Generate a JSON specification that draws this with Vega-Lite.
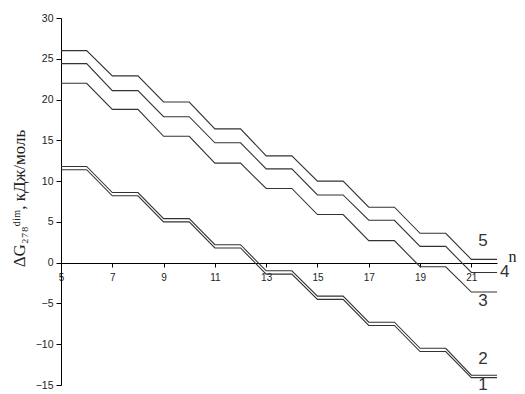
{
  "$schema": "https://vega.github.io/schema/vega-lite/v6.json",
  "autosize": "none",
  "width": 436,
  "height": 367,
  "padding": {"left": 61, "top": 18, "right": 28, "bottom": 9},
  "background": "white",
  "config": {"view": {"stroke": null}, "axis": {"grid": false}},
  "datasets": {
    "lines": [
      {"s": "5", "n": 5, "v": 26.0}, {"s": "5", "n": 6, "v": 26.0}, {"s": "5", "n": 7, "v": 22.9}, {"s": "5", "n": 8, "v": 22.9}, {"s": "5", "n": 9, "v": 19.7}, {"s": "5", "n": 10, "v": 19.7}, {"s": "5", "n": 11, "v": 16.4}, {"s": "5", "n": 12, "v": 16.4}, {"s": "5", "n": 13, "v": 13.1}, {"s": "5", "n": 14, "v": 13.1}, {"s": "5", "n": 15, "v": 10.0}, {"s": "5", "n": 16, "v": 10.0}, {"s": "5", "n": 17, "v": 6.8}, {"s": "5", "n": 18, "v": 6.8}, {"s": "5", "n": 19, "v": 3.6}, {"s": "5", "n": 20, "v": 3.6}, {"s": "5", "n": 21, "v": 0.4}, {"s": "5", "n": 22, "v": 0.4},
      {"s": "4", "n": 5, "v": 24.4}, {"s": "4", "n": 6, "v": 24.4}, {"s": "4", "n": 7, "v": 21.1}, {"s": "4", "n": 8, "v": 21.1}, {"s": "4", "n": 9, "v": 17.9}, {"s": "4", "n": 10, "v": 17.9}, {"s": "4", "n": 11, "v": 14.7}, {"s": "4", "n": 12, "v": 14.7}, {"s": "4", "n": 13, "v": 11.5}, {"s": "4", "n": 14, "v": 11.5}, {"s": "4", "n": 15, "v": 8.3}, {"s": "4", "n": 16, "v": 8.3}, {"s": "4", "n": 17, "v": 5.2}, {"s": "4", "n": 18, "v": 5.2}, {"s": "4", "n": 19, "v": 2.0}, {"s": "4", "n": 20, "v": 2.0}, {"s": "4", "n": 21, "v": -1.2}, {"s": "4", "n": 22, "v": -1.2},
      {"s": "3", "n": 5, "v": 22.0}, {"s": "3", "n": 6, "v": 22.0}, {"s": "3", "n": 7, "v": 18.8}, {"s": "3", "n": 8, "v": 18.8}, {"s": "3", "n": 9, "v": 15.5}, {"s": "3", "n": 10, "v": 15.5}, {"s": "3", "n": 11, "v": 12.2}, {"s": "3", "n": 12, "v": 12.2}, {"s": "3", "n": 13, "v": 9.1}, {"s": "3", "n": 14, "v": 9.1}, {"s": "3", "n": 15, "v": 5.9}, {"s": "3", "n": 16, "v": 5.9}, {"s": "3", "n": 17, "v": 2.7}, {"s": "3", "n": 18, "v": 2.7}, {"s": "3", "n": 19, "v": -0.5}, {"s": "3", "n": 20, "v": -0.5}, {"s": "3", "n": 21, "v": -3.6}, {"s": "3", "n": 22, "v": -3.6},
      {"s": "2", "n": 5, "v": 11.8}, {"s": "2", "n": 6, "v": 11.8}, {"s": "2", "n": 7, "v": 8.6}, {"s": "2", "n": 8, "v": 8.6}, {"s": "2", "n": 9, "v": 5.4}, {"s": "2", "n": 10, "v": 5.4}, {"s": "2", "n": 11, "v": 2.2}, {"s": "2", "n": 12, "v": 2.2}, {"s": "2", "n": 13, "v": -1.0}, {"s": "2", "n": 14, "v": -1.0}, {"s": "2", "n": 15, "v": -4.1}, {"s": "2", "n": 16, "v": -4.1}, {"s": "2", "n": 17, "v": -7.3}, {"s": "2", "n": 18, "v": -7.3}, {"s": "2", "n": 19, "v": -10.5}, {"s": "2", "n": 20, "v": -10.5}, {"s": "2", "n": 21, "v": -13.8}, {"s": "2", "n": 22, "v": -13.8},
      {"s": "1", "n": 5, "v": 11.4}, {"s": "1", "n": 6, "v": 11.4}, {"s": "1", "n": 7, "v": 8.2}, {"s": "1", "n": 8, "v": 8.2}, {"s": "1", "n": 9, "v": 5.0}, {"s": "1", "n": 10, "v": 5.0}, {"s": "1", "n": 11, "v": 1.8}, {"s": "1", "n": 12, "v": 1.8}, {"s": "1", "n": 13, "v": -1.4}, {"s": "1", "n": 14, "v": -1.4}, {"s": "1", "n": 15, "v": -4.5}, {"s": "1", "n": 16, "v": -4.5}, {"s": "1", "n": 17, "v": -7.7}, {"s": "1", "n": 18, "v": -7.7}, {"s": "1", "n": 19, "v": -10.9}, {"s": "1", "n": 20, "v": -10.9}, {"s": "1", "n": 21, "v": -14.1}, {"s": "1", "n": 22, "v": -14.1}
    ],
    "labels": [
      {"lab": "5", "n": 21.45, "v": 2.6},
      {"lab": "4", "n": 22.3, "v": -1.2},
      {"lab": "3", "n": 21.45, "v": -4.7},
      {"lab": "2", "n": 21.45, "v": -11.8},
      {"lab": "1", "n": 21.45, "v": -14.95}
    ]
  },
  "layer": [
    {
      "data": {"name": "lines"},
      "mark": {"type": "line", "stroke": "#333333", "strokeWidth": 1.1, "clip": false},
      "encoding": {
        "x": {
          "field": "n", "type": "quantitative",
          "scale": {"domain": [5, 22], "nice": false, "zero": false},
          "axis": {
            "title": "n", "offset": -122,
            "values": [5, 6, 7, 8, 9, 10, 11, 12, 13, 14, 15, 16, 17, 18, 19, 20, 21],
            "labelExpr": "datum.value % 2 == 1 ? datum.label : ''",
            "domainColor": "#000000", "tickColor": "#000000", "tickSize": 4,
            "labelFont": "Liberation Sans", "labelFontSize": 10, "labelColor": "#222222", "labelPadding": 5,
            "labelFlush": false,
            "titleFont": "Liberation Serif", "titleFontSize": 16, "titleFontWeight": "normal", "titleColor": "#222222",
            "titleX": 451, "titleY": -7, "titleAlign": "center", "titleBaseline": "middle"
          }
        },
        "y": {
          "field": "v", "type": "quantitative",
          "scale": {"domain": [-15, 30], "nice": false, "zero": false},
          "axis": {
            "title": "ΔG₂₇₈ᵈⁱᵐ, кДж/моль",
            "values": [-15, -10, -5, 0, 5, 10, 15, 20, 25, 30],
            "domainColor": "#000000", "tickColor": "#000000", "tickSize": 5,
            "labelFont": "Liberation Sans", "labelFontSize": 10.5, "labelColor": "#222222", "labelPadding": 3,
            "labelFlush": false,
            "titleFont": "Liberation Serif", "titleFontSize": 17, "titleFontWeight": "normal", "titleColor": "#222222",
            "titleX": -42, "titleY": 180, "titleAngle": -90, "titleAlign": "center", "titleBaseline": "middle"
          }
        },
        "detail": {"field": "s", "type": "nominal"}
      }
    },
    {
      "data": {"name": "labels"},
      "mark": {"type": "text", "font": "Liberation Sans", "fontSize": 17, "color": "#333333", "align": "center", "baseline": "middle", "clip": false},
      "encoding": {
        "x": {"field": "n", "type": "quantitative"},
        "y": {"field": "v", "type": "quantitative"},
        "text": {"field": "lab"}
      }
    }
  ]
}
